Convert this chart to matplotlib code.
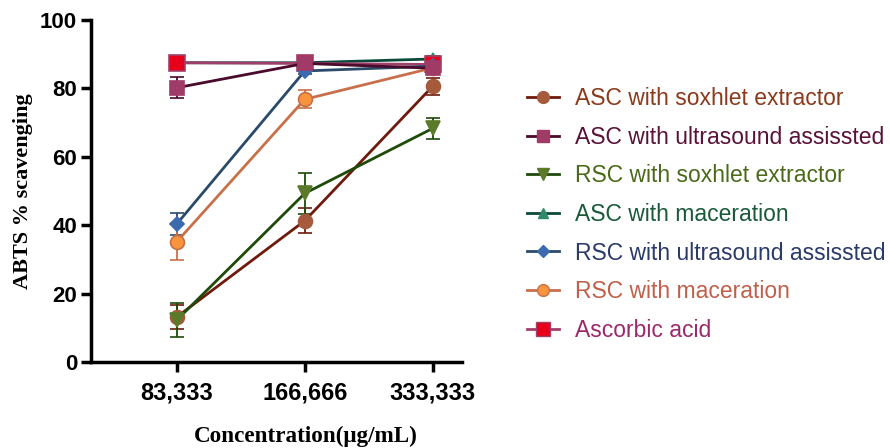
import matplotlib.pyplot as plt
from matplotlib.lines import Line2D

conc = ["83,333", "166,666", "333,333"]

asc_soxhlet = [13.2, 41.3, 80.6]
asc_soxhlet_err = [3.5, 3.7, 2.5]
asc_ultra = [80.2, 87.3, 85.9]
asc_ultra_err = [3.0, 0.8, 0.8]
rsc_soxhlet = [12.3, 49.3, 68.3]
rsc_soxhlet_err = [5.0, 6.0, 3.0]
asc_macer = [87.5, 87.5, 88.6]
asc_macer_err = [0.5, 0.5, 0.8]
rsc_ultra = [40.4, 85.1, 86.5]
rsc_ultra_err = [3.2, 0.8, 0.8]
rsc_macer = [35.2, 76.8, 86.0]
rsc_macer_err = [5.5, 2.6, 0.8]
ascorbic = [87.5, 87.3, 87.0]
ascorbic_err = [0.5, 0.5, 0.5]

# name, values, errors, marker, face, edge, line colour, text colour, size, zorder
series = [
    ("ASC with soxhlet extractor", asc_soxhlet, asc_soxhlet_err, "o", "#a65a3c", "#a65a3c", "#6e1a0c", "#8b3a1a", 10, 3),
    ("ASC with ultrasound assissted", asc_ultra, asc_ultra_err, "s", "#a03a66", "#a03a66", "#4a0a2c", "#5a1238", 10, 3.5),
    ("RSC with soxhlet extractor", rsc_soxhlet, rsc_soxhlet_err, "v", "#5a7a2a", "#5a7a2a", "#1e4a0a", "#4a6a1a", 10, 3),
    ("ASC with maceration", asc_macer, asc_macer_err, "^", "#2e8b6a", "#2e8b6a", "#0a4a3a", "#1a5a3a", 9, 2),
    ("RSC with ultrasound assissted", rsc_ultra, rsc_ultra_err, "D", "#3a6ab0", "#3a6ab0", "#2a4a6a", "#2a3a6a", 7, 3),
    ("RSC with maceration", rsc_macer, rsc_macer_err, "o", "#f7943c", "#c8704a", "#c8704a", "#c0604a", 10, 3),
    ("Ascorbic acid", ascorbic, ascorbic_err, "s", "#e8001a", "#a0406a", "#a0406a", "#9a2a6a", 12, 2.5),
]

fig = plt.figure(figsize=(8.9, 4.48), dpi=100)
ax = fig.add_axes([91 / 890, 1 - 362 / 448, (462 - 91) / 890, (362 - 20) / 448])

x = list(range(len(conc)))
handles = []
for name, vals, err, mk, face, edge, line, txt, ms, z in series:
    ax.errorbar(x, vals, yerr=err, color=line, lw=2, marker=mk, ms=ms,
                mfc=face, mec=edge, mew=1.2,
                ecolor=line, elinewidth=1.3, capsize=5, capthick=1.3,
                zorder=z)
    handles.append(Line2D([], [], color=line, lw=2, marker=mk,
                          ms=ms * 0.85, mfc=face, mec=edge, mew=1))

ax.set_xlim(-0.672, 2.23)
ax.set_ylim(0, 100)
ax.set_xticks(x)
ax.set_xticklabels(conc)
ax.set_yticks([0, 20, 40, 60, 80, 100])
for s in ["top", "right"]:
    ax.spines[s].set_visible(False)
for s in ["left", "bottom"]:
    ax.spines[s].set_linewidth(2.5)
ax.tick_params(width=2.5, length=7)
for lab in ax.get_yticklabels():
    lab.set_fontfamily("Liberation Sans")
    lab.set_fontweight("bold")
    lab.set_fontsize(16)
for lab in ax.get_xticklabels():
    lab.set_fontfamily("Liberation Sans")
    lab.set_fontweight("bold")
    lab.set_fontsize(17)
ax.tick_params(axis="x", pad=7)
ax.tick_params(axis="y", pad=3)

ax.set_ylabel("ABTS % scavenging", fontfamily="Liberation Serif", fontweight="bold", fontsize=16, labelpad=5)
ax.set_xlabel("Concentration(μg/mL)", fontfamily="Liberation Serif", fontweight="bold", fontsize=16.7)
ax.xaxis.set_label_coords((306 - 91) / 371, -(436 - 362) / 342, transform=ax.transAxes)
ax.xaxis.label.set_verticalalignment("center")

leg = fig.legend(handles, [s[0] for s in series], loc="upper left",
                 bbox_to_anchor=(518 / 890, 1 - 78 / 448), borderaxespad=0,
                 frameon=False, prop={"family": "Liberation Sans", "size": 16.5},
                 labelspacing=0.68, handlelength=1.4, handletextpad=0.7)
for text, s in zip(leg.get_texts(), series):
    text.set_color(s[7])

fig.savefig("out.png", dpi=100)
